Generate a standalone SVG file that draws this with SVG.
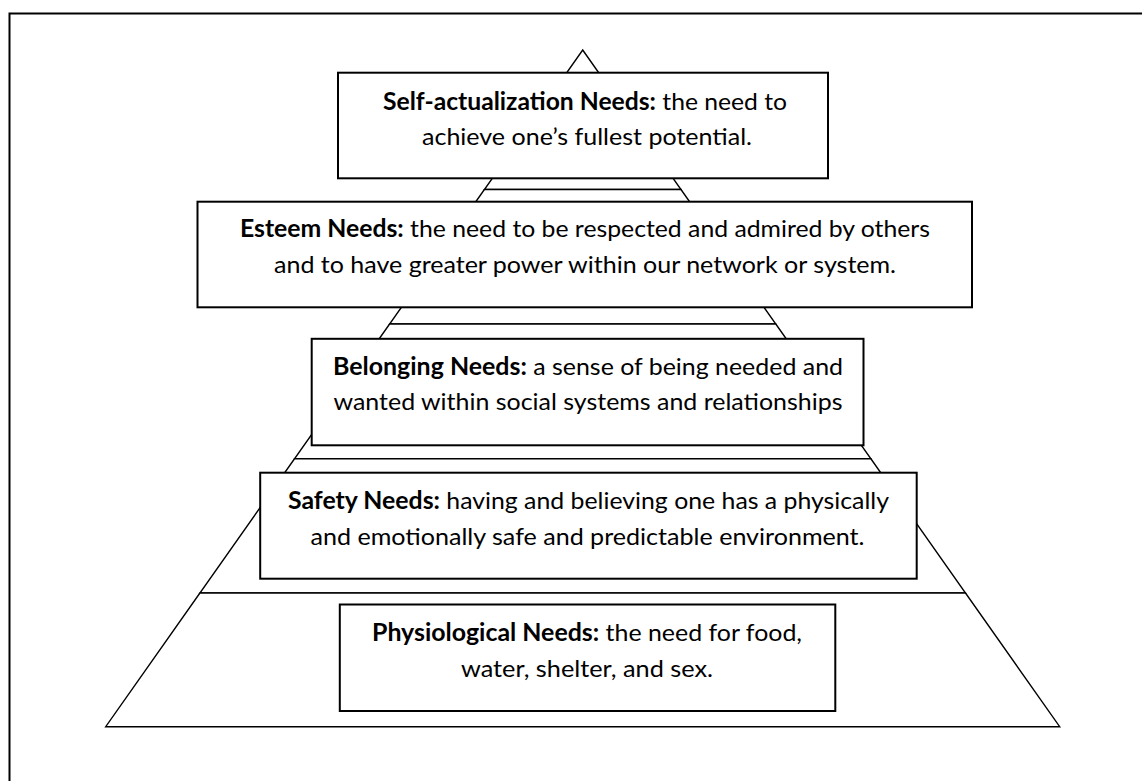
<svg xmlns="http://www.w3.org/2000/svg" width="1142" height="781" viewBox="0 0 1142 781">
  <style>
    .layer { fill: #ffffff; stroke: #000000; stroke-width: 1.4; stroke-linejoin: miter; }
    .box { fill: #ffffff; stroke: #000000; stroke-width: 2; }
    .txt { font-family: Lato, "Open Sans", "Liberation Sans", sans-serif; font-size: 24px; fill: #000000; text-anchor: middle; }
    .b { font-weight: bold; }
    .frame { fill: none; stroke: #000000; stroke-width: 2; }
  </style>
  <rect x="0" y="0" width="1142" height="781" fill="#ffffff"/>
  <path class="frame" d="M9.5,781 V13.5 H1142"/>

  <g id="pyramid">
    <polygon class="layer" points="582.7,50 681,189.5 484.4,189.5"/>
    <polygon class="layer" points="484.4,189.5 681,189.5 775.8,324 389.6,324"/>
    <polygon class="layer" points="389.6,324 775.8,324 870.9,458.8 294.5,458.8"/>
    <polygon class="layer" points="294.5,458.8 870.9,458.8 965.5,593 199.9,593"/>
    <polygon class="layer" points="199.9,593 965.5,593 1059.7,726.7 105.7,726.7"/>
  </g>

  <g id="connectors"></g>

  <g id="self-actualization">
    <rect class="box" x="338" y="72.7" width="490" height="105.6"/>
    <text class="txt" x="585" y="109.5" textLength="404" lengthAdjust="spacingAndGlyphs"><tspan class="b">Self-actualization Needs:</tspan> the need to</text>
    <text class="txt" x="587" y="145" textLength="330" lengthAdjust="spacingAndGlyphs">achieve one’s fullest potential.</text>
  </g>

  <g id="esteem">
    <rect class="box" x="197.5" y="201.7" width="774.5" height="105.6"/>
    <text class="txt" x="585" y="236.7" textLength="690" lengthAdjust="spacingAndGlyphs"><tspan class="b">Esteem Needs:</tspan> the need to be respected and admired by others</text>
    <text class="txt" x="585" y="273.3" textLength="622" lengthAdjust="spacingAndGlyphs">and to have greater power within our network or system.</text>
  </g>

  <g id="belonging">
    <rect class="box" x="311.7" y="338.8" width="551.8" height="106.5"/>
    <text class="txt" x="588" y="374.5" textLength="510" lengthAdjust="spacingAndGlyphs"><tspan class="b">Belonging Needs:</tspan> a sense of being needed and</text>
    <text class="txt" x="588" y="409.5" textLength="509" lengthAdjust="spacingAndGlyphs">wanted within social systems and relationships</text>
  </g>

  <g id="safety">
    <rect class="box" x="260.2" y="472.7" width="656.5" height="106"/>
    <text class="txt" x="588.5" y="509" textLength="601" lengthAdjust="spacingAndGlyphs"><tspan class="b">Safety Needs:</tspan> having and believing one has a physically</text>
    <text class="txt" x="587.5" y="544.5" textLength="554" lengthAdjust="spacingAndGlyphs">and emotionally safe and predictable environment.</text>
  </g>

  <g id="physiological">
    <rect class="box" x="339.8" y="604.5" width="495.5" height="106.5"/>
    <text class="txt" x="587" y="640.7" textLength="430" lengthAdjust="spacingAndGlyphs"><tspan class="b">Physiological Needs:</tspan> the need for food,</text>
    <text class="txt" x="587" y="677" textLength="252" lengthAdjust="spacingAndGlyphs">water, shelter, and sex.</text>
  </g>
</svg>
